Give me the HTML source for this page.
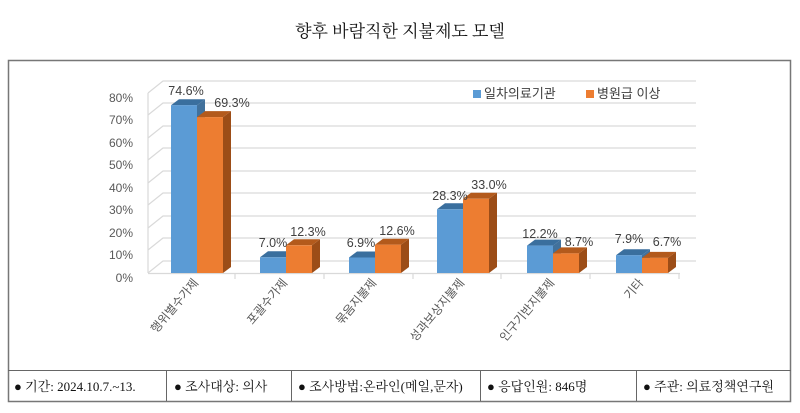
<!DOCTYPE html>
<html><head><meta charset="utf-8"><style>
body{margin:0;background:#fff;width:800px;height:413px;overflow:hidden}
svg{display:block}
text{font-family:"Liberation Sans","Noto Sans CJK KR",sans-serif}
.s{font-family:"Liberation Serif","Noto Serif CJK SC","Noto Sans CJK KR",serif}
</style></head><body>
<svg width="800" height="413" viewBox="0 0 800 413">
<text x="400" y="37" class="s" font-size="17" text-anchor="middle" fill="#111">향후 바람직한 지불제도 모델</text>
<rect x="8.5" y="60.5" width="782" height="341" fill="none" stroke="#777" stroke-width="1.5"/>
<line x1="8" y1="370.5" x2="791" y2="370.5" stroke="#666"/>
<g stroke="#666"><line x1="166.5" y1="370" x2="166.5" y2="401"/><line x1="291.5" y1="370" x2="291.5" y2="401"/><line x1="480.5" y1="370" x2="480.5" y2="401"/><line x1="636.5" y1="370" x2="636.5" y2="401"/></g>
<g class="s" font-size="13" fill="#111">
<text x="14" y="391" class="s">● 기간: 2024.10.7.~13.</text>
<text x="174" y="391" class="s">● 조사대상: 의사</text>
<text x="298" y="391" class="s">● 조사방법:온라인(메일,문자)</text>
<text x="487" y="391" class="s">● 응답인원: 846명</text>
<text x="643" y="391" class="s">● 주관: 의료정책연구원</text>
</g>
<g stroke="#d9d9d9" stroke-width="1.2" fill="none">
<polyline points="148,93 163,81 696,81"/>
<polyline points="148,115 163,103 696,103"/>
<polyline points="148,138 163,126 696,126"/>
<polyline points="148,160 163,148 696,148"/>
<polyline points="148,183 163,171 696,171"/>
<polyline points="148,205 163,193 696,193"/>
<polyline points="148,228 163,216 696,216"/>
<polyline points="148,250 163,238 696,238"/>
<polyline points="148,273 163,261 696,261"/>
<line x1="148" y1="93" x2="148" y2="273"/>
<line x1="148" y1="273.5" x2="680" y2="273.5"/>
<line x1="235" y1="273" x2="235" y2="279"/><line x1="324" y1="273" x2="324" y2="279"/><line x1="413" y1="273" x2="413" y2="279"/><line x1="501" y1="273" x2="501" y2="279"/><line x1="590" y1="273" x2="590" y2="279"/><line x1="679" y1="273" x2="679" y2="279"/>
</g>
<g font-size="12" fill="#595959" text-anchor="end">
<text x="133" y="102">80%</text><text x="133" y="124">70%</text><text x="133" y="147">60%</text><text x="133" y="169">50%</text><text x="133" y="192">40%</text><text x="133" y="214">30%</text><text x="133" y="237">20%</text><text x="133" y="259">10%</text><text x="133" y="282">0%</text>
</g>
<g>
<!-- g1 -->
<polygon points="197,105.2 205,99.2 205,267 197,273" fill="#41719c"/><polygon points="171,105.2 179,99.2 205,99.2 197,105.2" fill="#3a6f9e"/><rect x="171" y="105.2" width="26" height="167.8" fill="#5b9bd5"/>
<polygon points="223,117.1 231,111.1 231,267 223,273" fill="#9c4d17"/><polygon points="197,117.1 205,111.1 231,111.1 223,117.1" fill="#b35a1c"/><rect x="197" y="117.1" width="26" height="155.9" fill="#ed7d31"/>
<!-- g2 -->
<polygon points="286,257.3 294,251.3 294,267 286,273" fill="#41719c"/><polygon points="260,257.3 268,251.3 294,251.3 286,257.3" fill="#3a6f9e"/><rect x="260" y="257.3" width="26" height="15.7" fill="#5b9bd5"/>
<polygon points="312,245.3 320,239.3 320,267 312,273" fill="#9c4d17"/><polygon points="286,245.3 294,239.3 320,239.3 312,245.3" fill="#b35a1c"/><rect x="286" y="245.3" width="26" height="27.7" fill="#ed7d31"/>
<!-- g3 -->
<polygon points="375,257.5 383,251.5 383,267 375,273" fill="#41719c"/><polygon points="349,257.5 357,251.5 383,251.5 375,257.5" fill="#3a6f9e"/><rect x="349" y="257.5" width="26" height="15.5" fill="#5b9bd5"/>
<polygon points="401,244.7 409,238.7 409,267 401,273" fill="#9c4d17"/><polygon points="375,244.7 383,238.7 409,238.7 401,244.7" fill="#b35a1c"/><rect x="375" y="244.7" width="26" height="28.3" fill="#ed7d31"/>
<!-- g4 -->
<polygon points="463,209.3 471,203.3 471,267 463,273" fill="#41719c"/><polygon points="437,209.3 445,203.3 471,203.3 463,209.3" fill="#3a6f9e"/><rect x="437" y="209.3" width="26" height="63.7" fill="#5b9bd5"/>
<polygon points="489,198.8 497,192.8 497,267 489,273" fill="#9c4d17"/><polygon points="463,198.8 471,192.8 497,192.8 489,198.8" fill="#b35a1c"/><rect x="463" y="198.8" width="26" height="74.2" fill="#ed7d31"/>
<!-- g5 -->
<polygon points="553,245.6 561,239.6 561,267 553,273" fill="#41719c"/><polygon points="527,245.6 535,239.6 561,239.6 553,245.6" fill="#3a6f9e"/><rect x="527" y="245.6" width="26" height="27.4" fill="#5b9bd5"/>
<polygon points="579,253.4 587,247.4 587,267 579,273" fill="#9c4d17"/><polygon points="553,253.4 561,247.4 587,247.4 579,253.4" fill="#b35a1c"/><rect x="553" y="253.4" width="26" height="19.6" fill="#ed7d31"/>
<!-- g6 -->
<polygon points="642,255.2 650,249.2 650,267 642,273" fill="#41719c"/><polygon points="616,255.2 624,249.2 650,249.2 642,255.2" fill="#3a6f9e"/><rect x="616" y="255.2" width="26" height="17.8" fill="#5b9bd5"/>
<polygon points="668,257.9 676,251.9 676,267 668,273" fill="#9c4d17"/><polygon points="642,257.9 650,251.9 676,251.9 668,257.9" fill="#b35a1c"/><rect x="642" y="257.9" width="26" height="15.1" fill="#ed7d31"/>
</g>
<g font-size="12.5" fill="#404040" text-anchor="middle">
<text x="186" y="95">74.6%</text><text x="232" y="107">69.3%</text>
<text x="273" y="247">7.0%</text><text x="308" y="236">12.3%</text>
<text x="361" y="247">6.9%</text><text x="397" y="235">12.6%</text>
<text x="450" y="200">28.3%</text><text x="489" y="189">33.0%</text>
<text x="540" y="238">12.2%</text><text x="579" y="246">8.7%</text>
<text x="629" y="243">7.9%</text><text x="667" y="246">6.7%</text>
</g>
<g font-size="12" fill="#595959" text-anchor="end">
<text transform="translate(199,283) rotate(-50)">행위별수가제</text>
<text transform="translate(288,283) rotate(-50)">포괄수가제</text>
<text transform="translate(377,283) rotate(-50)">묶음지불제</text>
<text transform="translate(465,283) rotate(-50)">성과보상지불제</text>
<text transform="translate(555,283) rotate(-50)">인구기반지불제</text>
<text transform="translate(644,283) rotate(-50)">기타</text>
</g>
<rect x="473" y="90" width="8" height="8" fill="#5b9bd5"/>
<text x="484" y="98" font-size="13" fill="#404040">일차의료기관</text>
<rect x="586" y="90" width="8" height="8" fill="#ed7d31"/>
<text x="597" y="98" font-size="13" fill="#404040">병원급 이상</text>
</svg>
</body></html>
